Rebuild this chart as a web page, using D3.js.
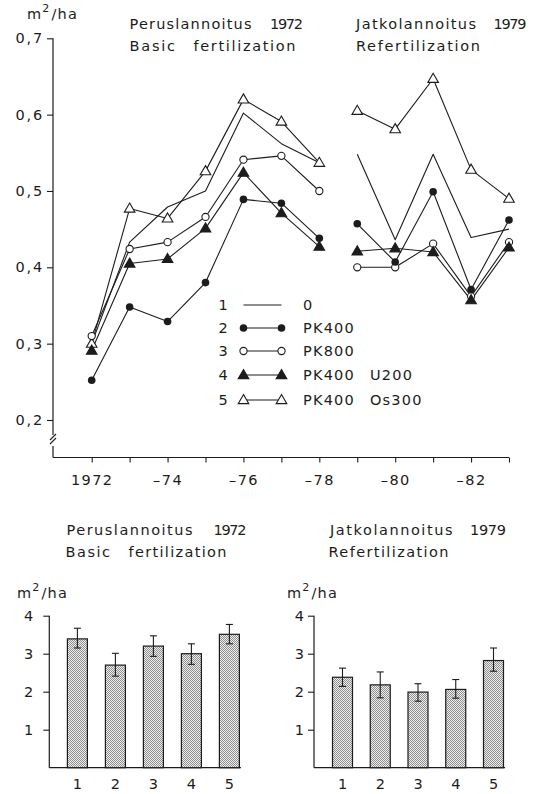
<!DOCTYPE html>
<html>
<head>
<meta charset="utf-8">
<script src="https://cdn.jsdelivr.net/npm/d3@7"></script>
<style>
  html, body { margin: 0; padding: 0; background: #fff; }
  svg { display: block; }
  text { font-family: "DejaVu Sans", sans-serif; fill: #1c1c1c; }
</style>
</head>
<body>
<svg id="chart" width="540" height="794"></svg>
<script>
// ---- Data -------------------------------------------------------------
const years = [1972, 1973, 1974, 1975, 1976, 1977, 1978, 1979, 1980, 1981, 1982, 1983];
const yearTickLabels = ["1972", "", "\u201374", "", "\u201376", "", "\u201378", "", "\u201380", "", "\u201382", ""];
const valueTicks = [0.2, 0.3, 0.4, 0.5, 0.6, 0.7];

// basal area growth, m2/ha, per treatment
const treatmentNumbers = ["1", "2", "3", "4", "5"];
const treatmentNames = ["0", "PK400", "PK800", "PK400", "PK400"];
const treatmentExtras = ["", "", "", "U200", "Os300"];
const markerTypes = ["none", "dot", "circle", "filledTriangle", "openTriangle"];

const series0 = [0.300, 0.433, 0.479, 0.500, 0.602, 0.562, 0.537, 0.548, 0.436, 0.548, 0.439, 0.450];
const seriesPK400 = [0.252, 0.348, 0.329, 0.380, 0.489, 0.484, 0.438, 0.457, 0.407, 0.499, 0.371, 0.462];
const seriesPK800 = [0.310, 0.424, 0.433, 0.466, 0.541, 0.546, 0.500, 0.400, 0.400, 0.431, 0.362, 0.433];
const seriesU200 = [0.291, 0.405, 0.411, 0.451, 0.524, 0.471, 0.427, 0.421, 0.425, 0.420, 0.357, 0.426];
const seriesOs300 = [0.300, 0.477, 0.464, 0.526, 0.620, 0.591, 0.537, 0.605, 0.581, 0.647, 0.528, 0.490];
const allSeries = [series0, seriesPK400, seriesPK800, seriesU200, seriesOs300];

// two fertilization periods
const period1 = [1972, 1978];
const period2 = [1979, 1983];

// bar charts: mean with error range
const barCategories = ["1", "2", "3", "4", "5"];
const barTicks = [1, 2, 3, 4];
const basicMeans = [3.39, 2.70, 3.20, 3.00, 3.51];
const basicLow = [3.15, 2.41, 2.93, 2.72, 3.26];
const basicHigh = [3.67, 3.01, 3.47, 3.26, 3.77];
const refertMeans = [2.38, 2.18, 1.99, 2.06, 2.82];
const refertLow = [2.14, 1.84, 1.75, 1.83, 2.54];
const refertHigh = [2.62, 2.52, 2.21, 2.32, 3.15];

// ---- Setup -------------------------------------------------------------
const ink = "#1c1c1c";
const fs = 14.5;
const svg = d3.select("#chart");

const defs = svg.append("defs");
const pat = defs.append("pattern").attr("id", "stipple")
  .attr("width", 2).attr("height", 2).attr("patternUnits", "userSpaceOnUse");
pat.append("rect").attr("width", 2).attr("height", 2).attr("fill", "#efefef");
pat.append("rect").attr("x", 0).attr("y", 0).attr("width", 1).attr("height", 1).attr("fill", "#8e8e8e");
pat.append("rect").attr("x", 1).attr("y", 1).attr("width", 1).attr("height", 1).attr("fill", "#8e8e8e");

function unitLabel(g, x, y) {
  const t = g.append("text").attr("x", x).attr("y", y).attr("font-size", fs).attr("letter-spacing", 1.2);
  t.append("tspan").text("m");
  t.append("tspan").attr("dy", -7).attr("font-size", 11).text("2");
  t.append("tspan").attr("dy", 7).attr("dx", 1).text("/ha");
}

function word(g, str, x, y, width) {
  g.append("text").attr("x", x).attr("y", y).attr("font-size", fs)
    .attr("textLength", width).attr("lengthAdjust", "spacing").text(str);
}

// ---- Line chart --------------------------------------------------------
const lc = svg.append("g");
const x = d3.scaleLinear().domain([1972, 1983]).range([91.7, 509]);
const y = d3.scaleLinear().domain([0.2, 0.7]).range([420, 38.3]);
const axisX = 53, axisBottom = 457.5;

unitLabel(lc, 27, 19);
word(lc, "Peruslannoitus", 129.5, 29, 122);
word(lc, "1972", 270, 29, 33);
word(lc, "Basic", 129.5, 51, 45.5);
word(lc, "fertilization", 193.5, 51, 102);
word(lc, "Jatkolannoitus", 356, 29, 120);
word(lc, "1979", 493.5, 29, 33);
word(lc, "Refertilization", 356, 51, 124);

// y axis with break near the bottom
const yAxis = d3.axisLeft(y).tickValues(valueTicks).tickSize(6).tickPadding(3)
  .tickFormat(d => d.toFixed(1).replace(".", ","));
const yg = lc.append("g").attr("transform", `translate(${axisX},0)`).call(yAxis);
yg.select(".domain").remove();
yg.selectAll(".tick line").attr("stroke", ink).attr("stroke-width", 1.1);
yg.selectAll(".tick text").attr("font-size", fs).attr("letter-spacing", 1.8)
  .attr("font-family", "DejaVu Sans").attr("fill", ink);

lc.append("line").attr("x1", axisX).attr("x2", axisX).attr("y1", y(0.7)).attr("y2", 435)
  .attr("stroke", ink).attr("stroke-width", 1.2);
lc.append("line").attr("x1", axisX).attr("x2", axisX).attr("y1", 446).attr("y2", axisBottom)
  .attr("stroke", ink).attr("stroke-width", 1.2);
[0, 4].forEach(o => {
  lc.append("line").attr("x1", axisX - 3).attr("y1", 440 + o).attr("x2", axisX + 3).attr("y2", 434 + o)
    .attr("stroke", ink).attr("stroke-width", 1.1);
});

// x axis
const xAxis = d3.axisBottom(x).tickValues(years).tickSize(5).tickPadding(12)
  .tickFormat((d, i) => yearTickLabels[i]);
const xg = lc.append("g").attr("transform", `translate(0,${axisBottom})`).call(xAxis);
xg.select(".domain").remove();
xg.selectAll(".tick line").attr("stroke", ink).attr("stroke-width", 1.1);
xg.selectAll(".tick text").attr("font-size", fs).attr("letter-spacing", 1.4)
  .attr("font-family", "DejaVu Sans").attr("fill", ink);
lc.append("line").attr("x1", axisX).attr("x2", x(1983)).attr("y1", axisBottom).attr("y2", axisBottom)
  .attr("stroke", ink).attr("stroke-width", 1.2);

// markers
function drawMarker(g, type, cx, cy) {
  if (type === "dot") {
    g.append("circle").attr("cx", cx).attr("cy", cy).attr("r", 3.8).attr("fill", ink);
  } else if (type === "circle") {
    g.append("circle").attr("cx", cx).attr("cy", cy).attr("r", 3.6)
      .attr("fill", "#fff").attr("stroke", ink).attr("stroke-width", 1.1);
  } else if (type === "filledTriangle" || type === "openTriangle") {
    const p = `M${cx},${cy - 5.5}L${cx + 5.3},${cy + 3.6}L${cx - 5.3},${cy + 3.6}Z`;
    g.append("path").attr("d", p)
      .attr("fill", type === "filledTriangle" ? ink : "#fff")
      .attr("stroke", ink).attr("stroke-width", 1.1).attr("stroke-linejoin", "miter");
  }
}

const line = d3.line().x(d => x(d[0])).y(d => y(d[1]));
[4, 0, 2, 3, 1].forEach(si => {
  const vals = allSeries[si];
  const pts = years.map((yr, i) => [yr, vals[i]]);
  [period1, period2].forEach(([a, b]) => {
    const seg = pts.filter(p => p[0] >= a && p[0] <= b);
    lc.append("path").attr("d", line(seg)).attr("fill", "none")
      .attr("stroke", ink).attr("stroke-width", 1.1).attr("stroke-linejoin", "round");
  });
});
[4, 2, 3, 1].forEach(si => {
  const vals = allSeries[si];
  years.forEach((yr, i) => drawMarker(lc, markerTypes[si], x(yr), y(vals[i])));
});

// legend
const legendRows = [305, 328, 351, 375, 400];
treatmentNumbers.forEach((n, i) => {
  const ly = legendRows[i];
  lc.append("text").attr("x", 223).attr("y", ly + 5).attr("text-anchor", "middle")
    .attr("font-size", fs).text(n);
  lc.append("line").attr("x1", 243.5).attr("x2", 281.5).attr("y1", ly).attr("y2", ly)
    .attr("stroke", ink).attr("stroke-width", 1.1);
  drawMarker(lc, markerTypes[i], 243.5, ly);
  drawMarker(lc, markerTypes[i], 281.5, ly);
  lc.append("text").attr("x", 303).attr("y", ly + 5).attr("font-size", fs)
    .attr("letter-spacing", 1.2).text(treatmentNames[i]);
  if (treatmentExtras[i]) {
    lc.append("text").attr("x", 370).attr("y", ly + 5).attr("font-size", fs)
      .attr("letter-spacing", 1.2).text(treatmentExtras[i]);
  }
});

// ---- Bar charts --------------------------------------------------------
function barChart(opts) {
  const g = svg.append("g");
  const by = d3.scaleLinear().domain([0, 4]).range([767.7, 615.7]);
  const bx = d3.scalePoint().domain(barCategories).range(opts.centers);
  const bw = 20;

  word(g, opts.title1[0], opts.t1x[0], 535, opts.t1w[0]);
  word(g, opts.title1[1], opts.t1x[1], 535, opts.t1w[1]);
  word(g, opts.title2[0], opts.t2x[0], 557, opts.t2w[0]);
  if (opts.title2[1]) word(g, opts.title2[1], opts.t2x[1], 557, opts.t2w[1]);
  unitLabel(g, opts.unitX, 598);

  const ya = d3.axisLeft(by).tickValues(barTicks).tickSize(6).tickPadding(opts.pad).tickFormat(d3.format("d"));
  const yg = g.append("g").attr("transform", `translate(${opts.axisX},0)`).call(ya);
  yg.select(".domain").remove();
  yg.selectAll(".tick line").attr("stroke", ink).attr("stroke-width", 1.1);
  yg.selectAll(".tick text").attr("font-size", fs).attr("font-family", "DejaVu Sans").attr("fill", ink);
  g.append("line").attr("x1", opts.axisX).attr("x2", opts.axisX).attr("y1", by(4)).attr("y2", by(0))
    .attr("stroke", ink).attr("stroke-width", 1.2);
  g.append("line").attr("x1", opts.axisX).attr("x2", opts.centers[1] + bw / 2 + 1.5).attr("y1", by(0)).attr("y2", by(0))
    .attr("stroke", ink).attr("stroke-width", 1.2);

  g.selectAll("rect.bar").data(opts.means).join("rect").attr("class", "bar")
    .attr("x", (d, i) => bx(barCategories[i]) - bw / 2)
    .attr("y", d => by(d)).attr("width", bw).attr("height", d => by(0) - by(d))
    .attr("fill", "url(#stipple)").attr("stroke", ink).attr("stroke-width", 1.2);

  opts.means.forEach((m, i) => {
    const cx = bx(barCategories[i]);
    const lo = by(opts.low[i]), hi = by(opts.high[i]);
    g.append("line").attr("x1", cx).attr("x2", cx).attr("y1", hi).attr("y2", lo)
      .attr("stroke", ink).attr("stroke-width", 1.1);
    [hi, lo].forEach(v => g.append("line").attr("x1", cx - 3.5).attr("x2", cx + 3.5)
      .attr("y1", v).attr("y2", v).attr("stroke", ink).attr("stroke-width", 1.1));
    g.append("text").attr("x", cx).attr("y", 789).attr("text-anchor", "middle")
      .attr("font-size", fs).text(barCategories[i]);
  });
}

barChart({
  centers: [77.4, 229.4], axisX: 49.3, unitX: 17, pad: 10,
  title1: ["Peruslannoitus", "1972"], t1x: [66.5, 213.5], t1w: [126, 33],
  title2: ["Basic", "fertilization"], t2x: [65.5, 128.5], t2w: [44.5, 98],
  means: basicMeans, low: basicLow, high: basicHigh
});
barChart({
  centers: [342.5, 493.5], axisX: 314, unitX: 287, pad: 4,
  title1: ["Jatkolannoitus", "1979"], t1x: [330, 470], t1w: [122.5, 36],
  title2: ["Refertilization", ""], t2x: [328.5, 0], t2w: [120, 0],
  means: refertMeans, low: refertLow, high: refertHigh
});
</script>
</body>
</html>
